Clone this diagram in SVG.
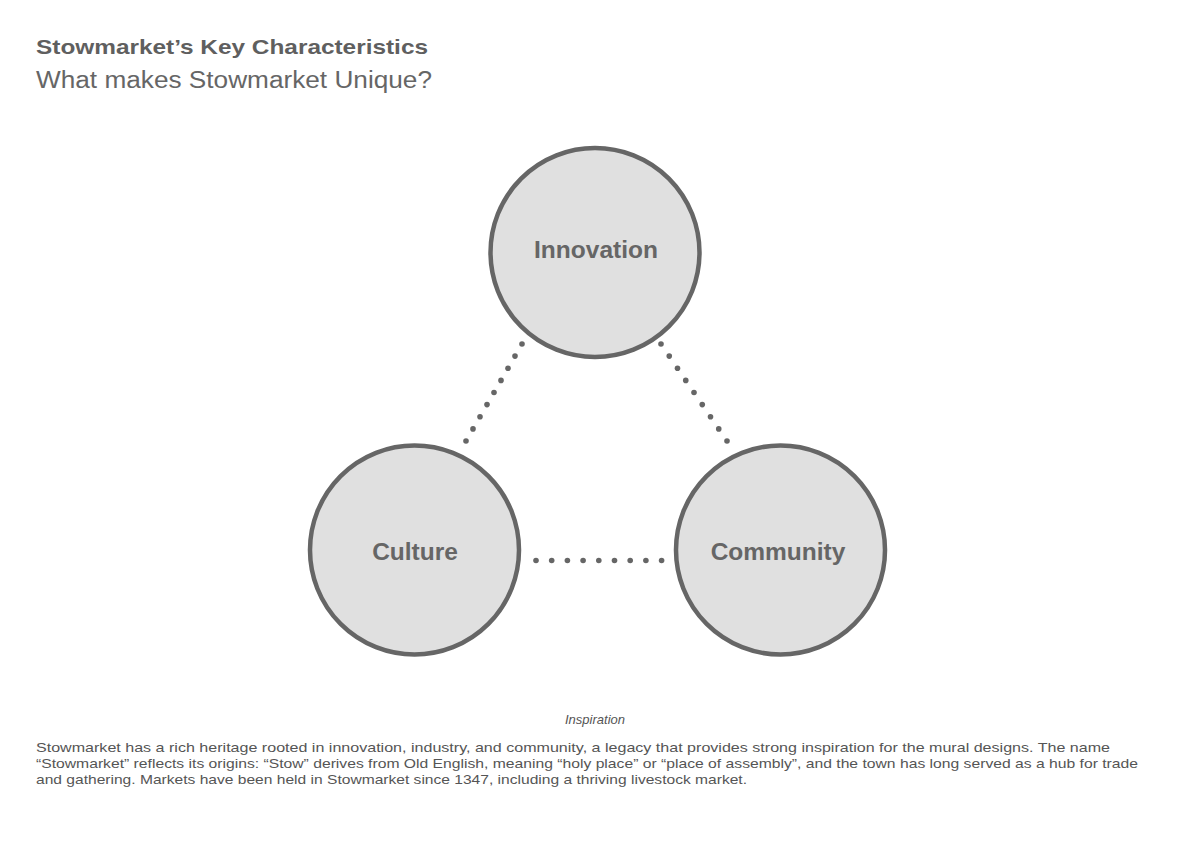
<svg xmlns="http://www.w3.org/2000/svg" width="1191" height="842" viewBox="0 0 1191 842">
<style>
.bg{fill:#ffffff}
.node circle{fill:#e0e0e0;stroke:#666666;stroke-width:4.5}
.lbl{font-family:"Liberation Sans",Arial,sans-serif;font-weight:bold;font-size:24.5px;fill:#666666;text-anchor:middle}
.dot{fill:#666666}
.title{font-family:"Liberation Sans",Arial,sans-serif;font-weight:bold;font-size:21px;fill:#5f5f5f}
.sub{font-family:"Liberation Sans",Arial,sans-serif;font-size:23px;fill:#666666}
.cap{font-family:"Liberation Sans",Arial,sans-serif;font-style:italic;font-size:13px;fill:#555555;text-anchor:middle}
.body{font-family:"Liberation Sans",Arial,sans-serif;font-size:13.5px;fill:#555555}
</style>
<rect class="bg" x="0" y="0" width="1191" height="842"/>
<text class="title" x="36" y="54" textLength="392" lengthAdjust="spacingAndGlyphs">Stowmarket’s Key Characteristics</text>
<text class="sub" x="36" y="88" textLength="396" lengthAdjust="spacingAndGlyphs">What makes Stowmarket Unique?</text>

<g id="connectors">
<g id="conn-innovation-culture">
<circle class="dot" cx="522" cy="344" r="2.8"/>
<circle class="dot" cx="515" cy="356.1" r="2.8"/>
<circle class="dot" cx="508" cy="368.3" r="2.8"/>
<circle class="dot" cx="501" cy="380.4" r="2.8"/>
<circle class="dot" cx="494" cy="392.5" r="2.8"/>
<circle class="dot" cx="487" cy="404.6" r="2.8"/>
<circle class="dot" cx="480" cy="416.8" r="2.8"/>
<circle class="dot" cx="473" cy="428.9" r="2.8"/>
<circle class="dot" cx="466" cy="441" r="2.8"/>
</g>
<g id="conn-innovation-community">
<circle class="dot" cx="661" cy="344" r="2.8"/>
<circle class="dot" cx="669.25" cy="356.1" r="2.8"/>
<circle class="dot" cx="677.5" cy="368.3" r="2.8"/>
<circle class="dot" cx="685.75" cy="380.4" r="2.8"/>
<circle class="dot" cx="694" cy="392.5" r="2.8"/>
<circle class="dot" cx="702.25" cy="404.6" r="2.8"/>
<circle class="dot" cx="710.5" cy="416.8" r="2.8"/>
<circle class="dot" cx="718.75" cy="428.9" r="2.8"/>
<circle class="dot" cx="727" cy="441" r="2.8"/>
</g>
<g id="conn-culture-community">
<circle class="dot" cx="536" cy="560.5" r="2.8"/>
<circle class="dot" cx="551.7" cy="560.5" r="2.8"/>
<circle class="dot" cx="567.4" cy="560.5" r="2.8"/>
<circle class="dot" cx="583.1" cy="560.5" r="2.8"/>
<circle class="dot" cx="598.8" cy="560.5" r="2.8"/>
<circle class="dot" cx="614.5" cy="560.5" r="2.8"/>
<circle class="dot" cx="630.2" cy="560.5" r="2.8"/>
<circle class="dot" cx="645.9" cy="560.5" r="2.8"/>
<circle class="dot" cx="661.6" cy="560.5" r="2.8"/>
</g>
</g>

<g id="node-innovation" class="node">
<circle cx="595" cy="252.5" r="104.5"/>
<text class="lbl" x="596" y="258">Innovation</text>
</g>
<g id="node-culture" class="node">
<circle cx="414.5" cy="550" r="104.5"/>
<text class="lbl" x="415" y="560">Culture</text>
</g>
<g id="node-community" class="node">
<circle cx="780.5" cy="550" r="104.5"/>
<text class="lbl" x="778" y="560">Community</text>
</g>

<text class="cap" x="595" y="724">Inspiration</text>
<text class="body" x="36" y="752" textLength="1074" lengthAdjust="spacingAndGlyphs">Stowmarket has a rich heritage rooted in innovation, industry, and community, a legacy that provides strong inspiration for the mural designs. The name</text>
<text class="body" x="36" y="768" textLength="1102" lengthAdjust="spacingAndGlyphs">“Stowmarket” reflects its origins: “Stow” derives from Old English, meaning “holy place” or “place of assembly”, and the town has long served as a hub for trade</text>
<text class="body" x="36" y="784" textLength="711" lengthAdjust="spacingAndGlyphs">and gathering. Markets have been held in Stowmarket since 1347, including a thriving livestock market.</text>
</svg>
